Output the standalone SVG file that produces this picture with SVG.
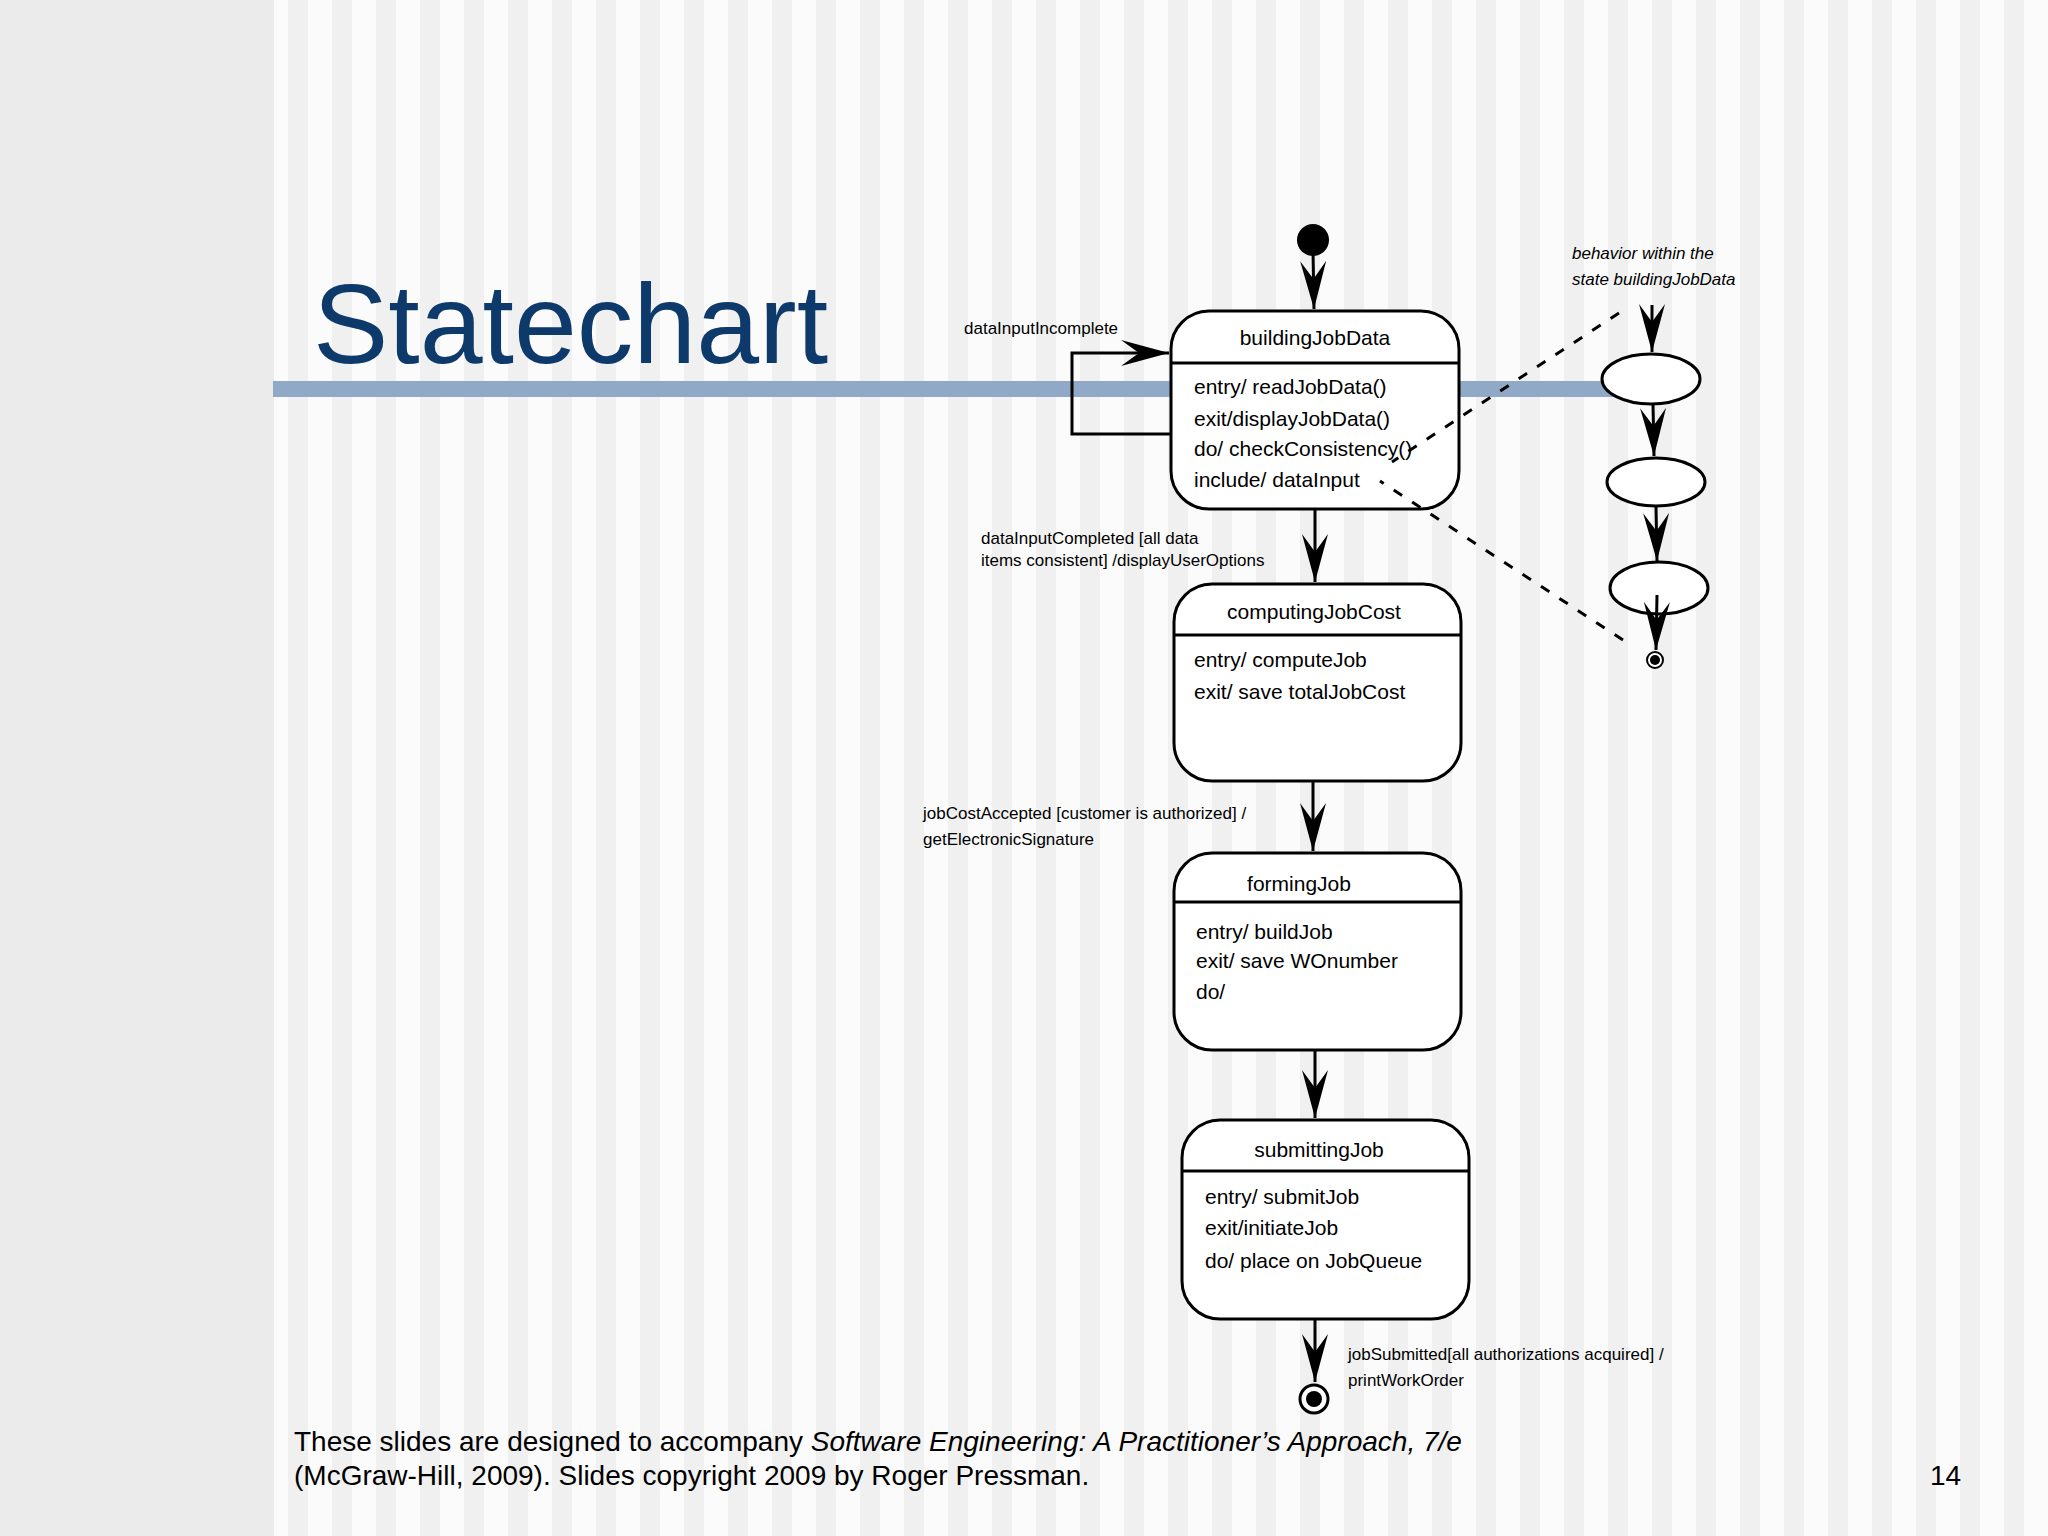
<svg xmlns="http://www.w3.org/2000/svg" width="2048" height="1536" viewBox="0 0 2048 1536">
<style>
.st{fill:#fff;stroke:#000;stroke-width:3}
.t{font-family:"Liberation Sans",Arial,sans-serif;font-size:21px;fill:#000}
.l{font-family:"Liberation Sans",Arial,sans-serif;font-size:17px;fill:#000}
.c{stroke:#000;stroke-width:3;fill:none}
.d{stroke:#000;stroke-width:3;fill:none;stroke-dasharray:10 12}
</style>
<defs>
<pattern id="stripes" x="0" y="0" width="44" height="10" patternUnits="userSpaceOnUse">
<rect width="44" height="10" fill="#fbfbfb"/>
<rect x="24" width="20" height="10" fill="#f0f0f0"/>
</pattern>
<marker id="ah" markerUnits="userSpaceOnUse" markerWidth="60" markerHeight="40" refX="0" refY="0" viewBox="-50 -20 60 40" orient="auto" overflow="visible">
<path d="M0,0 L-48,-13 L-30,0 L-48,13 Z" fill="#000"/>
</marker>
</defs>
<rect width="2048" height="1536" fill="url(#stripes)"/>
<rect width="274" height="1536" fill="#ebebeb"/>
<rect x="273" y="381" width="1347" height="16" fill="#8fa9c7"/>
<text x="313" y="363" font-family="Liberation Sans,Arial,sans-serif" font-size="113" fill="#0d3a6b">Statechart</text>

<g id="buildingJobData">
<rect class="st" x="1171" y="311" width="288" height="198" rx="38"/>
<line class="c" x1="1171" y1="363" x2="1459" y2="363"/>
<text class="t" x="1315" y="345" text-anchor="middle">buildingJobData</text>
<text class="t" x="1194" y="394">entry/ readJobData()</text>
<text class="t" x="1194" y="426">exit/displayJobData()</text>
<text class="t" x="1194" y="456">do/ checkConsistency()</text>
<text class="t" x="1194" y="487">include/ dataInput</text>
</g>
<g id="computingJobCost">
<rect class="st" x="1174" y="584" width="287" height="197" rx="38"/>
<line class="c" x1="1174" y1="635" x2="1461" y2="635"/>
<text class="t" x="1314" y="619" text-anchor="middle">computingJobCost</text>
<text class="t" x="1194" y="667">entry/ computeJob</text>
<text class="t" x="1194" y="699">exit/ save totalJobCost</text>
</g>
<g id="formingJob">
<rect class="st" x="1174" y="853" width="287" height="197" rx="38"/>
<line class="c" x1="1174" y1="902" x2="1461" y2="902"/>
<text class="t" x="1299" y="891" text-anchor="middle">formingJob</text>
<text class="t" x="1196" y="939">entry/ buildJob</text>
<text class="t" x="1196" y="968">exit/ save WOnumber</text>
<text class="t" x="1196" y="999">do/</text>
</g>
<g id="submittingJob">
<rect class="st" x="1182" y="1120" width="287" height="199" rx="38"/>
<line class="c" x1="1182" y1="1171" x2="1469" y2="1171"/>
<text class="t" x="1319" y="1157" text-anchor="middle">submittingJob</text>
<text class="t" x="1205" y="1204">entry/ submitJob</text>
<text class="t" x="1205" y="1235">exit/initiateJob</text>
<text class="t" x="1205" y="1268">do/ place on  JobQueue</text>
</g>
<g id="final">
<circle cx="1314" cy="1399" r="14" fill="#fff" stroke="#000" stroke-width="3"/>
<circle cx="1314" cy="1399" r="8" fill="#000"/>
</g>
<g id="sub1"><ellipse class="st" cx="1651" cy="379" rx="49" ry="25"/></g>
<g id="sub2"><ellipse class="st" cx="1656" cy="482" rx="49" ry="24"/></g>
<g id="sub3"><ellipse class="st" cx="1659" cy="588" rx="49" ry="26"/></g>
<g id="subfinal">
<circle cx="1655" cy="660" r="8" fill="#fff" stroke="#000" stroke-width="2"/>
<circle cx="1655" cy="660" r="5" fill="#000"/>
</g>

<g id="connectors">
<circle cx="1313" cy="240" r="16" fill="#000"/>
<line class="c" x1="1313" y1="250" x2="1314" y2="309" marker-end="url(#ah)"/>
<polyline class="c" points="1171,434 1072,434 1072,353 1169,353" marker-end="url(#ah)"/>
<line class="c" x1="1315" y1="509" x2="1315" y2="582" marker-end="url(#ah)"/>
<line class="c" x1="1313" y1="781" x2="1313" y2="851" marker-end="url(#ah)"/>
<line class="c" x1="1315" y1="1050" x2="1315" y2="1118" marker-end="url(#ah)"/>
<line class="c" x1="1315" y1="1319" x2="1315" y2="1382" marker-end="url(#ah)"/>
<line class="d" x1="1619" y1="313" x2="1392" y2="462"/>
<line class="d" x1="1623" y1="640" x2="1380" y2="481"/>
<line class="c" x1="1652" y1="305" x2="1652" y2="352" marker-end="url(#ah)"/>
<line class="c" x1="1653" y1="404" x2="1654" y2="456" marker-end="url(#ah)"/>
<line class="c" x1="1656" y1="506" x2="1657" y2="561" marker-end="url(#ah)"/>
<line class="c" x1="1657" y1="595" x2="1656" y2="650" marker-end="url(#ah)"/>
</g>

<g id="labels">
<text class="l" x="964" y="334">dataInputIncomplete</text>
<text class="l" x="981" y="544">dataInputCompleted [all data</text>
<text class="l" x="981" y="566">items consistent] /displayUserOptions</text>
<text class="l" x="923" y="819">jobCostAccepted [customer is authorized] /</text>
<text class="l" x="923" y="845">getElectronicSignature</text>
<text class="l" x="1348" y="1360">jobSubmitted[all authorizations acquired] /</text>
<text class="l" x="1348" y="1386">printWorkOrder</text>
<text class="l" x="1572" y="259" font-style="italic">behavior within the</text>
<text class="l" x="1572" y="285" font-style="italic">state buildingJobData</text>
</g>

<g id="footer" font-family="Liberation Sans,Arial,sans-serif" font-size="28" fill="#000">
<text x="294" y="1451">These slides are designed to accompany <tspan font-style="italic">Software Engineering: A Practitioner’s Approach, 7/e</tspan></text>
<text x="294" y="1485">(McGraw-Hill, 2009). Slides copyright 2009 by Roger Pressman.</text>
<text x="1930" y="1485">14</text>
</g>
</svg>
